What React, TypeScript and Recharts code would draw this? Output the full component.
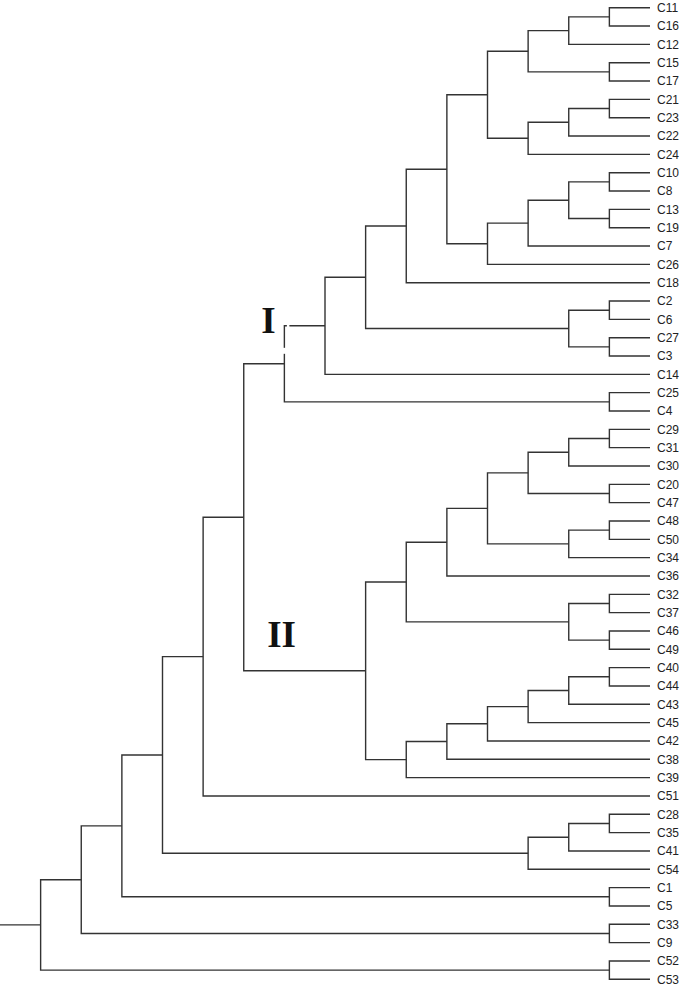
import { ComposedChart, Line, XAxis, YAxis, ReferenceDot } from "recharts"

// leaf order, top to bottom
const leaves = [
  "C11", "C16", "C12", "C15", "C17", "C21", "C23", "C22", "C24", "C10",
  "C8", "C13", "C19", "C7", "C26", "C18", "C2", "C6", "C27", "C3",
  "C14", "C25", "C4", "C29", "C31", "C30", "C20", "C47", "C48", "C50",
  "C34", "C36", "C32", "C37", "C46", "C49", "C40", "C44", "C43", "C45",
  "C42", "C38", "C39", "C51", "C28", "C35", "C41", "C54", "C1", "C5",
  "C33", "C9", "C52", "C53",
]

// [node, child a, child b, merge level]  (leaves sit at level 16, root stub starts at 0)
const merges: [string, string, string, number][] = [
  ["n1", "C11", "C16", 15],
  ["n2", "n1", "C12", 14],
  ["n3", "C15", "C17", 15],
  ["n4", "n2", "n3", 13],
  ["n5", "C21", "C23", 15],
  ["n6", "n5", "C22", 14],
  ["n7", "n6", "C24", 13],
  ["n8", "n4", "n7", 12],
  ["n9", "C10", "C8", 15],
  ["n10", "C13", "C19", 15],
  ["n11", "n9", "n10", 14],
  ["n12", "n11", "C7", 13],
  ["n13", "n12", "C26", 12],
  ["n14", "n8", "n13", 11],
  ["n15", "n14", "C18", 10],
  ["n16", "C2", "C6", 15],
  ["n17", "C27", "C3", 15],
  ["n18", "n16", "n17", 14],
  ["n19", "n15", "n18", 9],
  ["n20", "n19", "C14", 8],
  ["n21", "C25", "C4", 15],
  ["n22", "n20", "n21", 7],
  ["n23", "C29", "C31", 15],
  ["n24", "n23", "C30", 14],
  ["n25", "C20", "C47", 15],
  ["n26", "n24", "n25", 13],
  ["n27", "C48", "C50", 15],
  ["n28", "n27", "C34", 14],
  ["n29", "n26", "n28", 12],
  ["n30", "n29", "C36", 11],
  ["n31", "C32", "C37", 15],
  ["n32", "C46", "C49", 15],
  ["n33", "n31", "n32", 14],
  ["n34", "n30", "n33", 10],
  ["n35", "C40", "C44", 15],
  ["n36", "n35", "C43", 14],
  ["n37", "n36", "C45", 13],
  ["n38", "n37", "C42", 12],
  ["n39", "n38", "C38", 11],
  ["n40", "n39", "C39", 10],
  ["n41", "n34", "n40", 9],
  ["n42", "n22", "n41", 6],
  ["n43", "n42", "C51", 5],
  ["n44", "C28", "C35", 15],
  ["n45", "n44", "C41", 14],
  ["n46", "n45", "C54", 13],
  ["n47", "n43", "n46", 4],
  ["n48", "C1", "C5", 15],
  ["n49", "n47", "n48", 3],
  ["n50", "C33", "C9", 15],
  ["n51", "n49", "n50", 2],
  ["n52", "C52", "C53", 15],
  ["n53", "n51", "n52", 1],
]

const clusterLabels: [string, string][] = [
  ["I", "n22"],
  ["II", "n41"],
]

const leafLevel = 16
const rootStart = 0

const pos: Record<string, { x: number; y: number }> = {}
leaves.forEach((name, i) => {
  pos[name] = { x: leafLevel, y: i }
})
merges.forEach(([id, a, b, lvl]) => {
  pos[id] = { x: lvl, y: (pos[a].y + pos[b].y) / 2 }
})

const links = merges.map(([id, a, b, lvl]) => ({
  id,
  points: [
    { x: pos[a].x, y: pos[a].y },
    { x: lvl, y: pos[a].y },
    { x: lvl, y: pos[b].y },
    { x: pos[b].x, y: pos[b].y },
  ],
}))
const root = merges[merges.length - 1][0]
links.push({
  id: "root",
  points: [
    { x: rootStart, y: pos[root].y },
    { x: pos[root].x, y: pos[root].y },
  ],
})

const STROKE = "#333"
const SERIF = "'Liberation Serif', 'Times New Roman', serif"

function ClusterMark(props: any) {
  const { cx, cy, text } = props
  if (text === "I") {
    return (
      <g>
        {/* little white breaks around the label, as in the original figure */}
        <rect x={cx + 2.5} y={cy - 42} width={2.5} height={6} fill="#fff" />
        <rect x={cx - 2} y={cy - 16} width={4} height={6} fill="#fff" />
        <text x={cx - 16} y={cy - 31} textAnchor="middle" fontFamily={SERIF} fontWeight="bold" fontSize={37} fill="#111">
          I
        </text>
      </g>
    )
  }
  return (
    <text x={cx - 84} y={cy - 24} textAnchor="middle" fontFamily={SERIF} fontWeight="bold" fontSize={37} fill="#111">
      {text}
    </text>
  )
}

export default function App() {
  return (
    <div style={{ position: "absolute", left: 0, top: 0, background: "#fff" }}>
      <ComposedChart width={685} height={987} margin={{ top: 7.7, right: 0, bottom: 7.7, left: 0 }}>
        <XAxis type="number" dataKey="x" domain={[rootStart, leafLevel]} hide />
        <YAxis
          type="number"
          dataKey="y"
          orientation="right"
          width={35}
          domain={[0, leaves.length - 1]}
          reversed
          ticks={leaves.map((_, i) => i)}
          interval={0}
          tickFormatter={(v: number) => leaves[v]}
          axisLine={false}
          tickLine={false}
          tickSize={0}
          tickMargin={7}
          tick={{ fontSize: 12, fill: "#222", fontFamily: "'Liberation Sans', Arial, sans-serif", textAnchor: "start" }}
        />
        {links.map((l) => (
          <Line
            key={l.id}
            data={l.points}
            dataKey="y"
            type="linear"
            stroke={STROKE}
            strokeWidth={1.4}
            dot={false}
            activeDot={false}
            isAnimationActive={false}
          />
        ))}
        {clusterLabels.map(([text, node]) => (
          <ReferenceDot
            key={text}
            x={pos[node].x}
            y={pos[node].y}
            r={0}
            shape={(p: any) => <ClusterMark {...p} text={text} />}
          />
        ))}
      </ComposedChart>
    </div>
  )
}
